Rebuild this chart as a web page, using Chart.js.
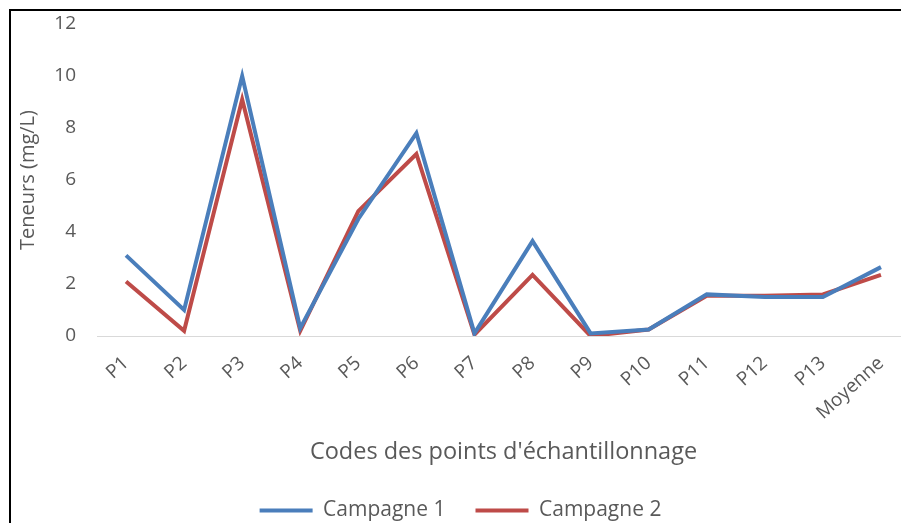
<!DOCTYPE html>
<html>
<head>
<meta charset="utf-8">
<script src="https://cdn.jsdelivr.net/npm/chart.js@4"></script>
<style>
  html, body { margin: 0; padding: 0; width: 901px; height: 523px; overflow: hidden; background: #fff; }
  #frame { position: absolute; left: 9px; top: 9px; border-left: 2px solid #000; border-top: 2px solid #000; width: 905px; height: 520px; }
  #chart { display: block; }
</style>
</head>
<body>
<div id="frame"><canvas id="chart" width="905" height="520"></canvas></div>
<script>
"use strict";
const categories = ["P1", "P2", "P3", "P4", "P5", "P6", "P7", "P8", "P9", "P10", "P11", "P12", "P13", "Moyenne"];
const campagne1 = [3.1, 1.0, 10.0, 0.3, 4.5, 7.8, 0.1, 3.65, 0.1, 0.25, 1.6, 1.5, 1.5, 2.65];
const campagne2 = [2.1, 0.2, 9.1, 0.2, 4.8, 7.0, 0.05, 2.35, 0.0, 0.25, 1.55, 1.55, 1.6, 2.35];
const yTicks = [0, 2, 4, 6, 8, 10, 12];

const textColor = "#595959";
const family = "'Open Sans', 'Liberation Sans', sans-serif";

new Chart("chart", {
    type: "line",
    data: {
        labels: categories,
        datasets: [
            { label: "Campagne 1", data: campagne1, borderColor: "#4a7ebb", backgroundColor: "#4a7ebb", borderWidth: 4, pointRadius: 0, tension: 0 },
            { label: "Campagne 2", data: campagne2, borderColor: "#be4b48", backgroundColor: "#be4b48", borderWidth: 4, pointRadius: 0, tension: 0 },
        ],
    },
    options: {
        responsive: false,
        animation: false,
        layout: { padding: { left: 0, right: 6, top: 13, bottom: 0 } },
        plugins: {
            legend: {
                position: "bottom",
                labels: {
                    boxWidth: 53, boxHeight: 4, padding: 30,
                    color: textColor, font: { family, size: 21 },
                    // plain line sample, no outline round the box
                    generateLabels: chart => Chart.defaults.plugins.legend.labels.generateLabels(chart)
                        .map(item => ({ ...item, lineWidth: 0 })),
                },
            },
            tooltip: { enabled: false },
        },
        scales: {
            x: {
                offset: true,
                afterFit: s => { s.height = 134; s.paddingLeft = 0; s.paddingRight = 0; },
                grid: { display: false },
                border: { display: true, color: "#d9d9d9", width: 1 },
                ticks: { color: textColor, font: { family, size: 19 }, minRotation: 42, maxRotation: 42, padding: 8 },
                title: { display: true, text: "Codes des points d'échantillonnage", color: textColor, font: { family, size: 23.5 }, padding: { top: 10, bottom: 4 } },
            },
            y: {
                min: 0, max: 12,
                afterBuildTicks: axis => { axis.ticks = yTicks.map(v => ({ value: v })); },
                afterFit: s => { s.width = 86; s.paddingTop = 0; s.paddingBottom = 0; },
                grid: { display: false, drawTicks: false },
                border: { display: false },
                ticks: { color: textColor, font: { family, size: 19 }, padding: 21 },
                title: { display: true, text: "Teneurs (mg/L)", color: textColor, font: { family, size: 20 }, padding: { top: 5, bottom: 13 } },
            },
        },
    },
});
</script>
</body>
</html>
